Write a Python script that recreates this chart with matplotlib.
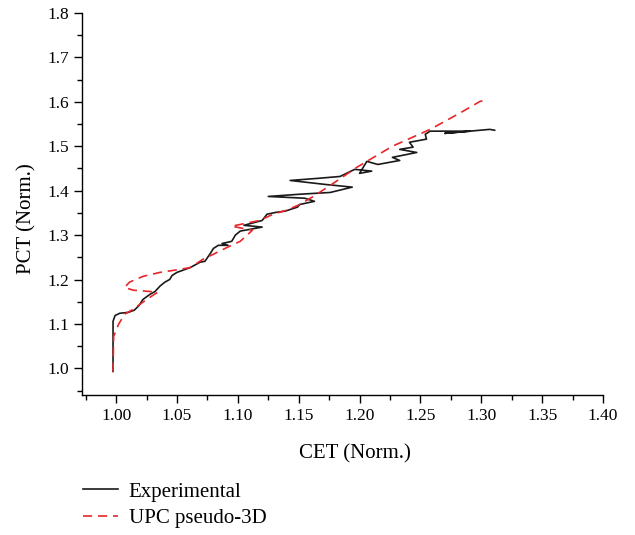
import matplotlib
matplotlib.use('Agg')
import matplotlib.pyplot as plt
from matplotlib.ticker import MultipleLocator

plt.rcParams['font.family'] = ['Liberation Serif', 'DejaVu Serif']

# Experimental curve (CET, PCT)
exp_cet = [0.9975, 0.9975, 0.9975, 0.9992, 1.003, 1.010, 1.015, 1.019, 1.022, 1.028,
           1.032, 1.036, 1.040, 1.044, 1.046, 1.050, 1.061, 1.069, 1.073, 1.077,
           1.080, 1.084, 1.092, 1.087, 1.095, 1.098, 1.102, 1.120, 1.105, 1.120,
           1.124, 1.131, 1.139, 1.149, 1.151, 1.163, 1.155, 1.125, 1.151, 1.176,
           1.194, 1.172, 1.143, 1.167, 1.184, 1.196, 1.210, 1.200, 1.206, 1.215,
           1.233, 1.227, 1.247, 1.233, 1.244, 1.241, 1.255, 1.254, 1.258, 1.291,
           1.270, 1.307, 1.311]
exp_pct = [0.993, 1.065, 1.106, 1.119, 1.124, 1.126, 1.131, 1.142, 1.155, 1.167,
           1.173, 1.185, 1.194, 1.200, 1.209, 1.216, 1.227, 1.239, 1.241, 1.257,
           1.270, 1.277, 1.277, 1.281, 1.286, 1.300, 1.309, 1.318, 1.322, 1.333,
           1.347, 1.351, 1.354, 1.363, 1.369, 1.376, 1.383, 1.387, 1.392, 1.396,
           1.408, 1.414, 1.423, 1.428, 1.432, 1.448, 1.444, 1.439, 1.466, 1.459,
           1.468, 1.475, 1.486, 1.493, 1.498, 1.509, 1.516, 1.527, 1.534, 1.534,
           1.529, 1.538, 1.536]

# UPC pseudo-3D simulation
upc_cet = [0.9975, 0.998, 1.002, 1.007, 1.014, 1.022, 1.030, 1.034, 1.028, 1.014,
           1.007, 1.011, 1.022, 1.036, 1.053, 1.061, 1.071, 1.083, 1.091, 1.102,
           1.112, 1.095, 1.118, 1.129, 1.140, 1.151, 1.162, 1.176, 1.198, 1.227,
           1.258, 1.282, 1.299, 1.302]
upc_pct = [0.993, 1.072, 1.099, 1.122, 1.133, 1.149, 1.164, 1.171, 1.173, 1.176,
           1.182, 1.194, 1.207, 1.216, 1.223, 1.227, 1.245, 1.261, 1.272, 1.286,
           1.311, 1.320, 1.333, 1.347, 1.356, 1.369, 1.387, 1.412, 1.453, 1.500,
           1.538, 1.574, 1.601, 1.603]

fig = plt.figure(figsize=(6.35, 5.35), dpi=100)
ax = fig.add_axes([82 / 635, 1 - 395 / 535, (603 - 82) / 635, (395 - 13) / 535])

ax.plot(exp_cet, exp_pct, color='#1a1a1a', lw=1.2, label='Experimental')
ax.plot(upc_cet, upc_pct, color='#e8262a', lw=1.2, dashes=(5.5, 3.5), label='UPC pseudo-3D')

ax.set_xlim(0.972, 1.40)
ax.set_ylim(0.94, 1.80)
ax.xaxis.set_major_locator(MultipleLocator(0.05))
ax.xaxis.set_minor_locator(MultipleLocator(0.025))
ax.yaxis.set_major_locator(MultipleLocator(0.1))
ax.yaxis.set_minor_locator(MultipleLocator(0.05))
ax.xaxis.set_major_formatter(plt.FormatStrFormatter('%.2f'))
ax.yaxis.set_major_formatter(plt.FormatStrFormatter('%.1f'))

for s in ['top', 'right']:
    ax.spines[s].set_visible(False)
for s in ['left', 'bottom']:
    ax.spines[s].set_linewidth(1.0)
ax.tick_params(which='major', direction='out', length=6, width=1.0, labelsize=12.5)
ax.tick_params(which='minor', direction='out', length=3.5, width=1.0)

ax.set_xlabel('CET (Norm.)', fontsize=15)
ax.set_ylabel('PCT (Norm.)', fontsize=15)
ax.xaxis.set_label_coords(0.524, -0.128)
ax.yaxis.set_label_coords(-0.088, 0.463)

fig.legend(loc='upper left', bbox_to_anchor=(83 / 635, 1 - 482 / 535),
           frameon=False, fontsize=15, handlelength=1.7, handletextpad=0.5,
           borderpad=0, borderaxespad=0, labelspacing=0.32)

fig.savefig('out.png', dpi=100)
